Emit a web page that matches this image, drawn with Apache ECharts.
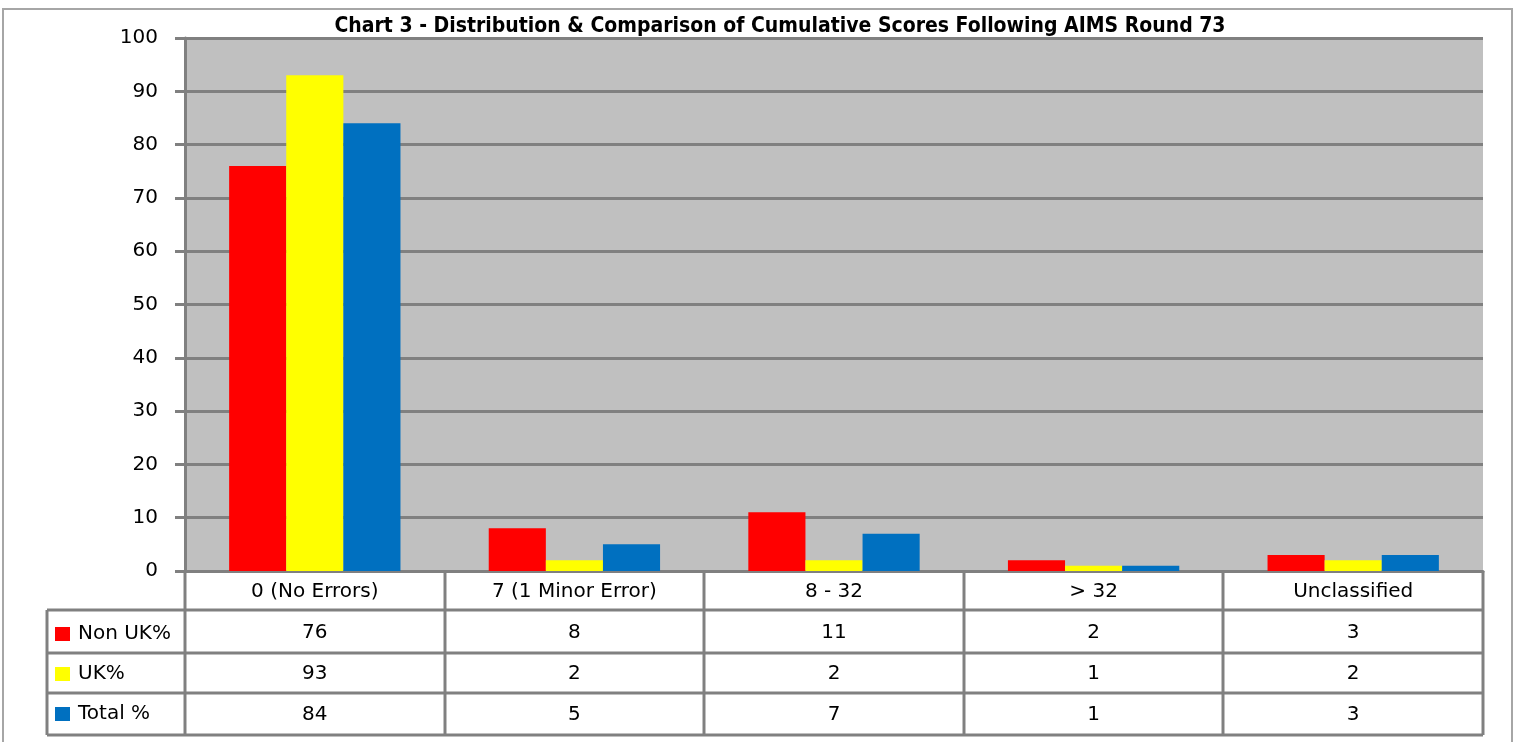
<!DOCTYPE html>
<html>
<head>
<meta charset="utf-8">
<script src="https://cdn.jsdelivr.net/npm/echarts@6/dist/echarts.min.js"></script>
<style>
  html, body {margin: 0; padding: 0; background: #fff;}
  #chart {width: 1518px; height: 742px;}
</style>
</head>
<body>
<div id="chart"></div>
<script>
const categories = ['0 (No Errors)', '7 (1 Minor Error)', '8 - 32', '> 32', 'Unclassified']
const nonUk = [76, 8, 11, 2, 3]
const uk = [93, 2, 2, 1, 2]
const total = [84, 5, 7, 1, 3]
const seriesNames = ['Non UK%', 'UK%', 'Total %']
const yTicks = [0, 100, 10]

const gridLine = '#808080'
const font = 'DejaVu Sans'
const plot = {left: 185, right: 1483, top: 38, bottom: 571}
const rowLines = [610, 653, 693, 735]
const tableLeft = 47

const chart = echarts.init(document.getElementById('chart'))

// table grid drawn as plain lines around the axis area
const lines = []
const colW = (plot.right - plot.left) / categories.length
rowLines.forEach(y => lines.push([tableLeft, y, plot.right, y]))
lines.push([tableLeft, rowLines[0], tableLeft, rowLines[3]])
lines.push([plot.left, plot.bottom, plot.left, rowLines[3]])
for (let i = 1; i <= categories.length; i++) {
    const x = Math.round(plot.left + colW * i)
    lines.push([x, plot.bottom, x, rowLines[3]])
}

chart.setOption({
    animation: false,
    backgroundColor: '#fff',
    title: {
        text: 'Chart 3 - Distribution & Comparison of Cumulative Scores Following AIMS Round 73',
        left: 780,
        textAlign: 'center',
        top: 16,
        padding: 0,
        textStyle: {fontFamily: 'DejaVu Sans Condensed', fontWeight: 'bold', fontSize: 21, color: '#000'}
    },
    legend: {
        orient: 'vertical',
        left: 55,
        top: 614,
        padding: 0,
        itemGap: 0,
        itemWidth: 15,
        itemHeight: 14,
        icon: 'rect',
        selectedMode: false,
        textStyle: {fontFamily: font, fontSize: 20, color: '#000', lineHeight: 40, padding: [0, 0, 0, 3]},
        data: seriesNames
    },
    grid: {
        left: plot.left,
        right: 1518 - plot.right,
        top: plot.top,
        bottom: 742 - plot.bottom,
        show: true,
        backgroundColor: '#C0C0C0',
        borderWidth: 0
    },
    xAxis: {
        type: 'category',
        data: categories,
        axisLine: {lineStyle: {color: gridLine, width: 3}},
        axisTick: {show: false},
        axisLabel: {
            margin: 0,
            interval: 0,
            fontFamily: font,
            fontSize: 20,
            color: '#000',
            lineHeight: 41,
            formatter(val, idx) {
                return [val, nonUk[idx], uk[idx], total[idx]].join('\n')
            }
        }
    },
    yAxis: {
        type: 'value',
        min: yTicks[0],
        max: yTicks[1],
        interval: yTicks[2],
        axisLine: {show: true, lineStyle: {color: gridLine, width: 3}},
        axisTick: {show: true, length: 10, lineStyle: {color: gridLine, width: 3}},
        splitLine: {lineStyle: {color: gridLine, width: 3}},
        axisLabel: {margin: 27, fontFamily: font, fontSize: 20, color: '#000'}
    },
    series: [
        {name: seriesNames[0], data: nonUk, color: '#FF0000'},
        {name: seriesNames[1], data: uk, color: '#FFFF00'},
        {name: seriesNames[2], data: total, color: '#0070C0'}
    ].map(obj => ({
        ...obj,
        type: 'bar',
        barGap: 0,
        barCategoryGap: '34%'
    })),
    graphic: [
        {
            type: 'rect',
            shape: {x: 3, y: 9, width: 1509, height: 760},
            style: {fill: 'none', stroke: '#A6A6A6', lineWidth: 2},
            silent: true
        },
        ...lines.map(l => ({
            type: 'line',
            shape: {x1: l[0], y1: l[1], x2: l[2], y2: l[3]},
            style: {stroke: gridLine, lineWidth: 3},
            silent: true,
            z: 10
        }))
    ]
})
</script>
</body>
</html>
